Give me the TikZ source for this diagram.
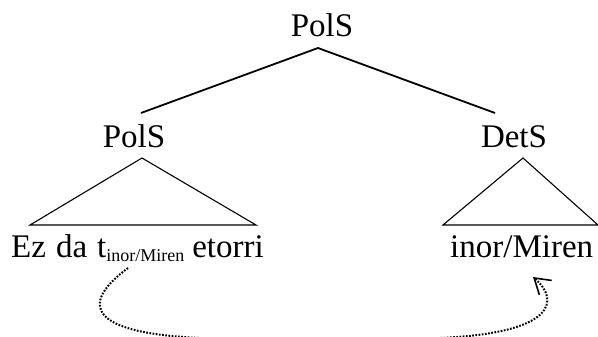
\documentclass[tikz,border=0pt]{standalone}
\usepackage{fontspec}
\setmainfont{Liberation Serif}
\usetikzlibrary{arrows.meta}
\begin{document}
\begin{tikzpicture}[x=1pt,y=-1pt,
  lbl/.style={inner sep=0pt,anchor=base,font=\fontsize{33}{37}\selectfont},
  branch/.style={line width=1.8pt},
  tri/.style={line width=1.1pt,line join=miter},
  move/.style={line width=2pt,dash pattern=on 1.7pt off 1.5pt,
    -{Straight Barb[length=15pt,width=19pt,line width=1.6pt]}}]
\useasboundingbox (0,0) rectangle (598,337);
\clip (0,0) rectangle (598,337);
% labels
\node[lbl] (top) at (322,37) {PolS};
\node[lbl] (pl) at (134,148) {PolS};
\node[lbl] (ds) at (514,148) {DetS};
\node[lbl,anchor=base west] (ls) at (11,257) {Ez\hspace{10pt}da\hspace{10pt}t\raisebox{-4pt}{\fontsize{18}{18}\selectfont inor/Miren}\hspace{8pt}etorri};
\node[lbl,anchor=base west] (rs) at (450,257) {inor/Miren};
% branch points
\coordinate (ta) at (318,48);
\coordinate (tl) at (141,113);
\coordinate (tr) at (495,113);
\draw[branch] (tl) -- (ta) -- (tr);
% triangles
\coordinate (pa) at (142,158);
\coordinate (pbl) at (30,225);
\coordinate (pbr) at (256,225);
\draw[tri] (pa) -- (pbl) -- (pbr) -- cycle;
\coordinate (da) at (523,158);
\coordinate (dbl) at (443,225);
\coordinate (dbr) at (598,225);
\draw[tri] (da) -- (dbl) -- (dbr) -- cycle;
% movement arrow
\coordinate (ms) at (128,268);
\coordinate (me) at (533,277);
\draw[move] (ms) .. controls (78,305) and (90,333) .. (200,338)
  -- (440,338) .. controls (556,333) and (560,300) .. (me);
\end{tikzpicture}
\end{document}
